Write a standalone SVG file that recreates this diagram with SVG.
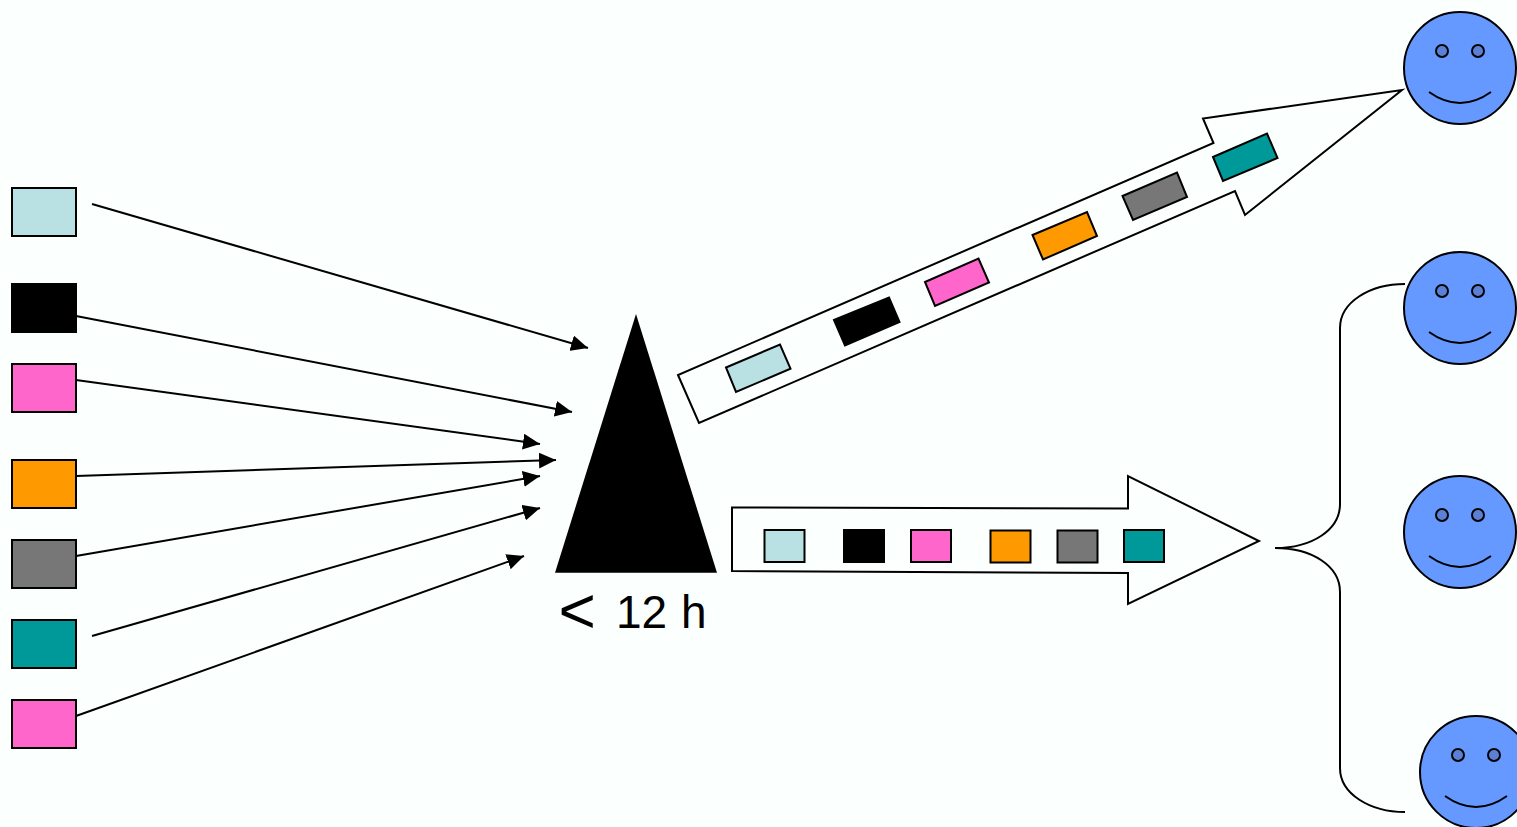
<svg xmlns="http://www.w3.org/2000/svg" width="1517" height="827" viewBox="0 0 1517 827">
<style>
.s{stroke:#000;stroke-width:2}
.light{fill:#b9e0e2}.black{fill:#000}.pink{fill:#ff66cc}.orange{fill:#ff9900}.gray{fill:#777777}.teal{fill:#009999}
.outline{fill:#fbfffe;stroke:#000;stroke-width:2;stroke-linejoin:miter}
.face{fill:#6699ff;stroke:#000;stroke-width:2}
.eye{fill:#5b80d4;stroke:#000;stroke-width:2}
.mouth{fill:none;stroke:#000;stroke-width:2}
.conn{fill:none;stroke:#000;stroke-width:2;marker-end:url(#ah)}
.brace{fill:none;stroke:#000;stroke-width:2}
text{font-family:"Liberation Sans",Arial,sans-serif;fill:#000}
</style>
<defs>
<marker id="ah" markerUnits="userSpaceOnUse" markerWidth="17" markerHeight="16" refX="17" refY="8" orient="auto" viewBox="0 0 17 16"><path d="M0 0L17 8L0 16Z" fill="#000"/></marker>
<g id="smile">
<circle class="face" cx="0" cy="0" r="56"/>
<circle class="eye" cx="-18" cy="-17" r="6"/>
<circle class="eye" cx="18" cy="-17" r="6"/>
<path class="mouth" d="M-31 24Q0 46 31 24"/>
</g>
</defs>
<rect width="1517" height="827" fill="#fbfffe"/>
<g id="connectors">
<path class="conn" d="M92 204L588 348"/>
<path class="conn" d="M76 316L572 412"/>
<path class="conn" d="M76 380L540 444"/>
<path class="conn" d="M76 476L556 460"/>
<path class="conn" d="M76 556L540 476"/>
<path class="conn" d="M92 636L540 508"/>
<path class="conn" d="M76 716L524 556"/>
</g>
<g id="src-1"><rect class="s light" x="12" y="188" width="64" height="48"/></g>
<g id="src-2"><rect class="s black" x="12" y="284" width="64" height="48"/></g>
<g id="src-3"><rect class="s pink" x="12" y="364" width="64" height="48"/></g>
<g id="src-4"><rect class="s orange" x="12" y="460" width="64" height="48"/></g>
<g id="src-5"><rect class="s gray" x="12" y="540" width="64" height="48"/></g>
<g id="src-6"><rect class="s teal" x="12" y="620" width="64" height="48"/></g>
<g id="src-7"><rect class="s pink" x="12" y="700" width="64" height="48"/></g>
<g id="triangle"><path d="M636 314L555 572.700H717Z" fill="#000"/></g>
<g id="label"><text y="628"><tspan x="558.500" y="633" font-size="64">&lt;</tspan><tspan x="616" y="628" font-size="46">12</tspan><tspan x="681" y="628" font-size="46">h</tspan></text></g>
<g id="arrow-up">
<path class="outline" d="M678 375L699 423L1235 191L1245 215L1402 90L1203 118.500L1213.500 143Z"/>
<path class="s light" d="M726 367.500L780 344.500L790.500 368.700L736 392Z"/>
<path class="s black" d="M834 320L889 297.500L899.500 322L845 345.500Z"/>
<path class="s pink" d="M925 282L978.500 258.500L989 282.500L935 306Z"/>
<path class="s orange" d="M1032.500 235L1087 212L1097 236L1043 259.500Z"/>
<path class="s gray" d="M1122.500 196L1177 172.500L1187 197L1133 220Z"/>
<path class="s teal" d="M1213 157L1267 133.500L1277.500 158L1223 181Z"/>
</g>
<g id="arrow-right">
<path class="outline" d="M732 507.500L1128 508.500V476L1259 541L1128 604V573L732 571Z"/>
<rect class="s light" x="764.500" y="530" width="40" height="32"/>
<rect class="s black" x="844" y="530" width="40" height="32"/>
<rect class="s pink" x="911" y="530" width="40" height="32"/>
<rect class="s orange" x="990.500" y="530.500" width="40" height="32"/>
<rect class="s gray" x="1057.500" y="530.500" width="40" height="32"/>
<rect class="s teal" x="1124" y="530" width="40" height="32"/>
</g>
<g id="brace"><path class="brace" d="M1405 284C1370 284 1340 302 1340 328V504C1340 530 1312 548 1275 548C1312 548 1340 566 1340 592V768C1340 794 1370 812 1405 812"/></g>
<g id="person-1"><use href="#smile" x="1460" y="68"/></g>
<g id="person-2"><use href="#smile" x="1460" y="308"/></g>
<g id="person-3"><use href="#smile" x="1460" y="532"/></g>
<g id="person-4"><use href="#smile" x="1476" y="772"/></g>
</svg>
